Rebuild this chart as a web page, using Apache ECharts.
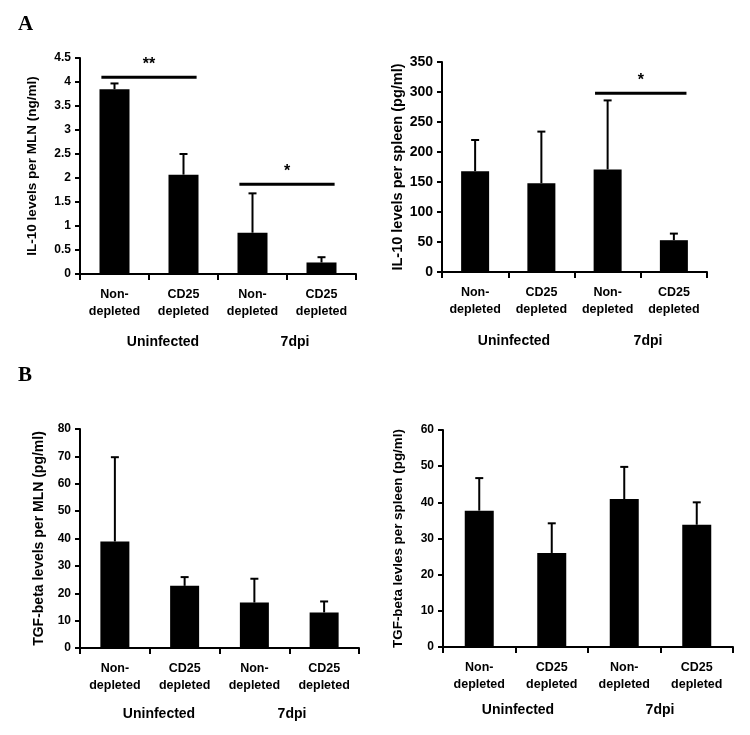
<!DOCTYPE html>
<html>
<head>
<meta charset="utf-8">
<script src="https://cdn.jsdelivr.net/npm/echarts@6/dist/echarts.min.js"></script>
<style>html,body{margin:0;padding:0;background:#fff;}#c{width:750px;height:735px;}</style>
</head>
<body>
<div id="c"></div>
<script>
// ---- data ----
const categories = ['Non-\ndepleted', 'CD25\ndepleted', 'Non-\ndepleted', 'CD25\ndepleted'];
const groupLabels = ['Uninfected', '7dpi'];

const il10MlnMean = [3.85, 2.07, 0.86, 0.24];
const il10MlnUpper = [3.97, 2.50, 1.68, 0.35];
const il10MlnSig = [[0, 1, 4.1, '**'], [2, 3, 1.87, '*']];

const il10SpleenMean = [168, 148, 171, 53];
const il10SpleenUpper = [220, 234, 286, 64];
const il10SpleenSig = [[2, 3, 298, '*']];

const tgfMlnMean = [38.9, 22.7, 16.6, 13.0];
const tgfMlnUpper = [69.7, 25.9, 25.3, 17.0];

const tgfSpleenMean = [37.7, 26.0, 40.9, 33.8];
const tgfSpleenUpper = [46.7, 34.2, 49.8, 40.0];

const yTicks = [
  {max: 4.5, interval: 0.5},
  {max: 350, interval: 50},
  {max: 80, interval: 10},
  {max: 60, interval: 10}
];
const yTitles = [
  'IL-10 levels per MLN (ng/ml)',
  'IL-10 levels per spleen (pg/ml)',
  'TGF-beta levels per MLN (pg/ml)',
  'TGF-beta levles per spleen (pg/ml)'
];

// ---- layout ----
const FONT = "'Liberation Sans', Arial, sans-serif";
const grids = [
  {left: 80, top: 58, width: 276, height: 216},
  {left: 442, top: 62, width: 265, height: 210},
  {left: 80, top: 429, width: 279, height: 219},
  {left: 443, top: 430, width: 290, height: 217}
];
const barWidths = [30, 28, 29, 29];
const tickFont = [12, 14, 12, 12];
const nameGaps = [41, 37, 34, 38];
const titleFont = [13.5, 14.5, 14, 13.4];

const panels = [
  {mean: il10MlnMean, upper: il10MlnUpper, sig: il10MlnSig},
  {mean: il10SpleenMean, upper: il10SpleenUpper, sig: il10SpleenSig},
  {mean: tgfMlnMean, upper: tgfMlnUpper, sig: []},
  {mean: tgfSpleenMean, upper: tgfSpleenUpper, sig: []}
];

const xAxes = [], yAxes = [], series = [];
panels.forEach((p, i) => {
  xAxes.push({
    type: 'category', gridIndex: i, data: categories,
    axisLine: {lineStyle: {color: '#000', width: 2}},
    axisTick: {show: true, length: 6, lineStyle: {color: '#000', width: 2}},
    axisLabel: {interval: 0, color: '#000', fontFamily: FONT, fontWeight: 'bold', fontSize: 12.5, lineHeight: 17, margin: 12}
  });
  yAxes.push({
    type: 'value', gridIndex: i, min: 0, max: yTicks[i].max, interval: yTicks[i].interval,
    name: yTitles[i], nameLocation: 'middle', nameRotate: 90, nameGap: nameGaps[i],
    nameTextStyle: {color: '#000', fontFamily: FONT, fontWeight: 'bold', fontSize: titleFont[i]},
    axisLine: {show: true, lineStyle: {color: '#000', width: 2}},
    axisTick: {show: true, length: 5, lineStyle: {color: '#000', width: 2}},
    splitLine: {show: false},
    axisLabel: {color: '#000', fontFamily: FONT, fontWeight: 'bold', fontSize: tickFont[i], margin: 9}
  });
  series.push({
    type: 'bar', xAxisIndex: i, yAxisIndex: i, data: p.mean,
    barWidth: barWidths[i], itemStyle: {color: '#000'}, silent: true
  });
  series.push({
    type: 'custom', xAxisIndex: i, yAxisIndex: i,
    data: p.mean.map((m, k) => [k, m, p.upper[k]]),
    encode: {x: 0, y: 2},
    renderItem: function (params, api) {
      const x = api.value(0);
      const base = api.coord([x, api.value(1)]);
      const top = api.coord([x, api.value(2)]);
      const hw = 4;
      return {
        type: 'group',
        children: [
          {type: 'line', shape: {x1: top[0], y1: base[1], x2: top[0], y2: top[1]}, style: {stroke: '#000', lineWidth: 2}},
          {type: 'line', shape: {x1: top[0] - hw, y1: top[1], x2: top[0] + hw, y2: top[1]}, style: {stroke: '#000', lineWidth: 2}}
        ]
      };
    },
    z: 3, silent: true
  });
  if (p.sig.length) {
    const sig = p.sig;
    series.push({
      type: 'custom', xAxisIndex: i, yAxisIndex: i,
      data: sig.map(s => [s[0], s[1], s[2]]),
      encode: {x: [0, 1], y: 2},
      renderItem: function (params, api) {
        const a = api.coord([api.value(0), api.value(2)]);
        const b = api.coord([api.value(1), api.value(2)]);
        const bw = api.size([1, 0])[0];
        const off = bw * 0.19;
        const label = sig[params.dataIndex][3];
        return {
          type: 'group',
          children: [
            {type: 'line', shape: {x1: a[0] - off, y1: a[1], x2: b[0] + off, y2: b[1]}, style: {stroke: '#000', lineWidth: 3}},
            {type: 'text', x: (a[0] + b[0]) / 2, y: a[1] - 5, style: {text: label, fill: '#000', font: 'bold 16px ' + FONT, textAlign: 'center', textVerticalAlign: 'bottom'}}
          ]
        };
      },
      z: 4, silent: true
    });
  }
});

function groupText(x, y, t) {
  return {type: 'text', x: x, y: y, style: {text: t, fill: '#000', font: 'bold 14px ' + FONT, textAlign: 'center', textVerticalAlign: 'middle'}};
}
const groupPos = [
  [[163, 342], [295, 342]],
  [[514, 341], [648, 341]],
  [[159, 714], [292, 714]],
  [[518, 710], [660, 710]]
];
const graphics = [
  {type: 'text', x: 18, y: 14, style: {text: 'A', fill: '#000', font: 'bold 21px "Liberation Serif", "Times New Roman", serif'}},
  {type: 'text', x: 18, y: 365, style: {text: 'B', fill: '#000', font: 'bold 21px "Liberation Serif", "Times New Roman", serif'}}
];
groupPos.forEach(gp => gp.forEach((pos, k) => graphics.push(groupText(pos[0], pos[1], groupLabels[k]))));

const chart = echarts.init(document.getElementById('c'), null, {renderer: 'canvas'});
chart.setOption({
  backgroundColor: '#fff',
  animation: false,
  grid: grids,
  xAxis: xAxes,
  yAxis: yAxes,
  series: series,
  graphic: graphics
});
</script>
</body>
</html>
